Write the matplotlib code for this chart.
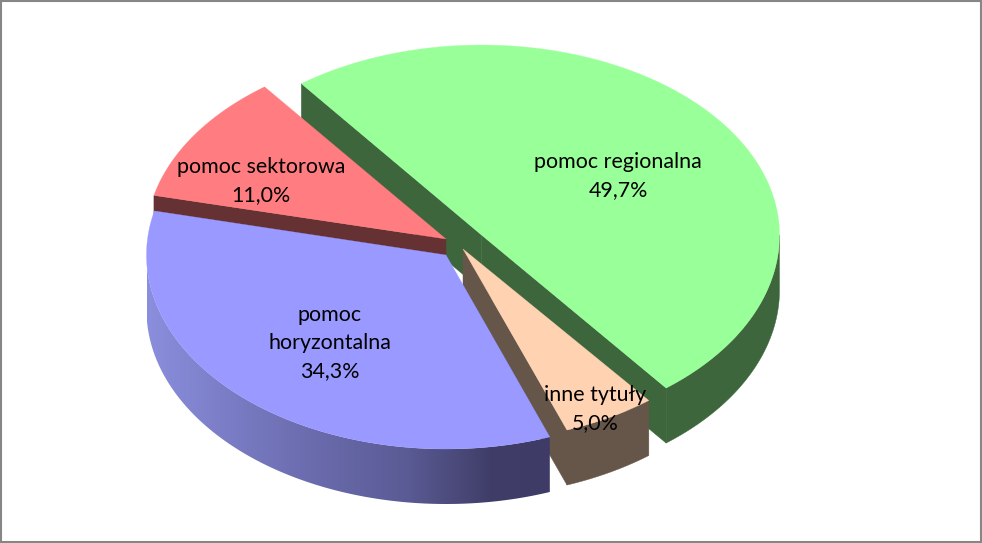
import numpy as np
import matplotlib
matplotlib.use("Agg")
import matplotlib.pyplot as plt
from matplotlib.patches import Polygon, Rectangle
from matplotlib.colors import LinearSegmentedColormap

# --- data ---
categories = ["pomoc regionalna", "inne tytuły", "pomoc\nhoryzontalna", "pomoc sektorowa"]
values = [49.7, 5.0, 34.3, 11.0]

# --- style ---
start_angle = 127.2
top_colors = ["#99FF99", "#FFD3B2", "#9999FF", "#FF7C80"]
wall_colors = ["#3D663D", "#66564A", None, "#663133"]
centers = [(481.5, 235), (463, 249), (446, 255), (446, 239)]
radii = [(298, 190, 195), (300, 193, 193), (299.5, 193, 194), (300, 191, 191)]  # rx, ry up, ry down
label_xy = [(618, 176), (595, 409), (330, 343), (261, 181)]
depth = 55
draw_order = [0, 3, 1, 2]
radial_wall_sides = [("start", "end"), ("end",), (), ("start",)]

plt.rcParams["font.family"] = ["Lato", "DejaVu Sans"]
fig = plt.figure(figsize=(9.82, 5.43), dpi=100)
ax = fig.add_axes([0, 0, 1, 1])
ax.set_xlim(0, 982)
ax.set_ylim(543, 0)
ax.axis("off")


def arc(i, a0, a1, n=240):
    t = np.radians(np.linspace(a0, a1, n))
    cx, cy = centers[i]
    rx, up, down = radii[i]
    s = np.sin(t)
    return np.column_stack([cx + rx * np.cos(t), cy - np.where(s > 0, up, down) * s])


# clockwise angular extents from the values
spans = np.array(values) / sum(values) * 360
ends = start_angle - np.cumsum(spans)
starts = ends + spans

grad = LinearSegmentedColormap.from_list(
    "b", [(0, "#8A8EDC"), (0.35, "#6F70B4"), (0.65, "#5A5A94"), (0.85, "#403E68"), (1, "#3E3C66")])

z = 1
for i in draw_order:
    a0, a1 = starts[i], ends[i]
    c = np.array(centers[i], float)
    d = np.array([0, depth])
    rim = arc(i, a0, a1)
    # radial walls
    for side in radial_wall_sides[i]:
        p = rim[0] if side == "start" else rim[-1]
        face = np.array([c, p, p + d, c + d])
        ax.add_patch(Polygon(face, closed=True, fc=wall_colors[i], ec=wall_colors[i], lw=0.3, zorder=z))
    # outer wall: the part of the rim facing the viewer
    tt = np.linspace(a1, a0, 600)
    m = np.sin(np.radians(tt)) <= 0
    if m.any():
        w = arc(i, tt[m].min(), tt[m].max())
        wall = np.vstack([w, (w + d)[::-1]])
        if wall_colors[i] is None:
            poly = Polygon(wall, closed=True, fc="none", ec="none", zorder=z)
            ax.add_patch(poly)
            x0, x1 = wall[:, 0].min(), wall[:, 0].max()
            y0, y1 = wall[:, 1].min(), wall[:, 1].max()
            im = ax.imshow(np.linspace(0, 1, 256)[None, :], cmap=grad, extent=[x0, x1, y1, y0],
                           aspect="auto", zorder=z)
            im.set_clip_path(poly)
            ax.set_xlim(0, 982)
            ax.set_ylim(543, 0)
        else:
            ax.add_patch(Polygon(wall, closed=True, fc=wall_colors[i], ec=wall_colors[i], lw=0.3, zorder=z))
    # top face
    ax.add_patch(Polygon(np.vstack([c, rim]), closed=True, fc=top_colors[i], ec=top_colors[i],
                         lw=0.2, zorder=z + 0.5))
    z += 1

for i, cat in enumerate(categories):
    txt = f"{cat}\n{values[i]:.1f}%".replace(".", ",")
    ax.text(*label_xy[i], txt, ha="center", va="center", fontsize=15.4, color="black",
            linespacing=1.5, zorder=20)

ax.add_patch(Rectangle((1, 1), 980, 541, fc="none", ec="#868686", lw=1.5, zorder=21))
fig.savefig("out.png", dpi=100)
